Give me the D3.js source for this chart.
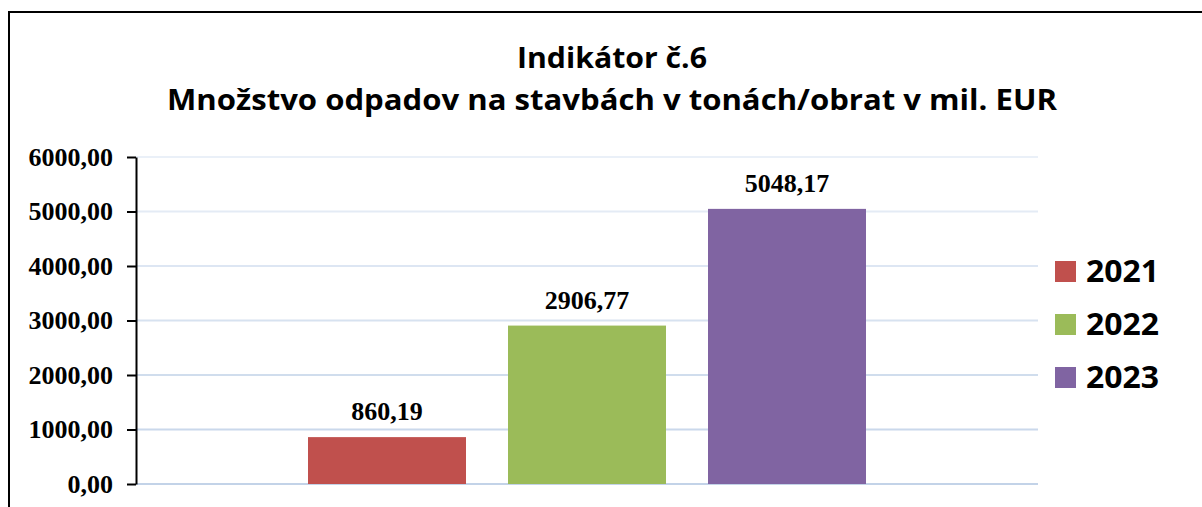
<!DOCTYPE html>
<html>
<head>
<meta charset="utf-8">
<script src="https://cdn.jsdelivr.net/npm/d3@7"></script>
<style>
  body { margin: 0; background: #fff; }
  svg { display: block; }
</style>
</head>
<body>
<svg id="chart"></svg>
<script>
// data
var titleLines = ["Indikátor č.6", "Množstvo odpadov na stavbách v tonách/obrat v mil. EUR"];
var years = ["2021", "2022", "2023"];
var values = [860.19, 2906.77, 5048.17];
var colors = ["#c0504d", "#9bbb59", "#8064a2"];
var yTicks = [0, 1000, 2000, 3000, 4000, 5000, 6000];

var width = 1202, height = 507;
var svg = d3.select("#chart").attr("width", width).attr("height", height);

var fmt = function (v) { return v.toFixed(2).replace(".", ","); };

// chart border (only top/left visible in frame)
svg.append("rect")
    .attr("x", 9).attr("y", 12)
    .attr("width", 1220).attr("height", 520)
    .attr("fill", "#fff")
    .attr("stroke", "#000")
    .attr("stroke-width", 2);

// title
svg.selectAll("text.title").data(titleLines)
    .enter().append("text")
    .attr("class", "title")
    .attr("x", 612)
    .attr("y", (d, i) => 68 + i * 42)
    .attr("text-anchor", "middle")
    .attr("font-family", "'Open Sans', 'Noto Sans', sans-serif")
    .attr("font-weight", "bold")
    .attr("font-size", 29)
    .attr("textLength", (d, i) => i === 0 ? 190 : 890)
    .attr("lengthAdjust", "spacingAndGlyphs")
    .text(d => d);

var plot = { left: 136, right: 1038, top: 157, bottom: 484 };

var y = d3.scaleLinear().domain([0, 6000]).range([plot.bottom, plot.top]);
var x = d3.scaleBand().domain(years)
    .range([308, 866])
    .paddingInner(0.21);

// gridlines with gradient tone
var gridColor = d3.scaleLinear().domain([0, 6000]).range(["#c3d3e8", "#eaf0f8"]);
svg.append("g").selectAll("line").data(yTicks)
    .enter().append("line")
    .attr("x1", plot.left).attr("x2", plot.right)
    .attr("y1", d => y(d)).attr("y2", d => y(d))
    .attr("stroke", d => gridColor(d))
    .attr("stroke-width", 2);

// bars
svg.append("g").selectAll("rect").data(values)
    .enter().append("rect")
    .attr("x", (d, i) => x(years[i]))
    .attr("y", d => y(d))
    .attr("width", x.bandwidth())
    .attr("height", d => y(0) - y(d))
    .attr("fill", (d, i) => colors[i]);

// value labels
svg.append("g").selectAll("text").data(values)
    .enter().append("text")
    .attr("x", (d, i) => x(years[i]) + x.bandwidth() / 2)
    .attr("y", d => y(d) - 17)
    .attr("text-anchor", "middle")
    .attr("font-family", "'Liberation Serif', 'Times New Roman', serif")
    .attr("font-weight", "bold")
    .attr("font-size", 26)
    .text(d => fmt(d));

// y axis
var yAxis = d3.axisLeft(y).tickValues(yTicks).tickFormat(fmt).tickSizeInner(9).tickSizeOuter(0).tickPadding(14);
var ax = svg.append("g").attr("transform", "translate(" + plot.left + ",0)").call(yAxis);
ax.select(".domain").attr("stroke", "#000").attr("stroke-width", 2);
ax.selectAll(".tick line").attr("stroke", "#000").attr("stroke-width", 2);
ax.selectAll(".tick text")
    .attr("font-family", "'Liberation Serif', 'Times New Roman', serif")
    .attr("font-weight", "bold")
    .attr("font-size", 26)
    .attr("fill", "#000");

// legend
var legend = svg.append("g").selectAll("g").data(years)
    .enter().append("g")
    .attr("transform", (d, i) => "translate(1055," + (261 + i * 53) + ")");
legend.append("rect")
    .attr("width", 21).attr("height", 21)
    .attr("fill", (d, i) => colors[i]);
legend.append("text")
    .attr("x", 31).attr("y", 21)
    .attr("font-family", "'Open Sans', 'Noto Sans', sans-serif")
    .attr("font-weight", "bold")
    .attr("font-size", 31)
    .attr("textLength", 73)
    .attr("lengthAdjust", "spacingAndGlyphs")
    .text(d => d);
</script>
</body>
</html>
